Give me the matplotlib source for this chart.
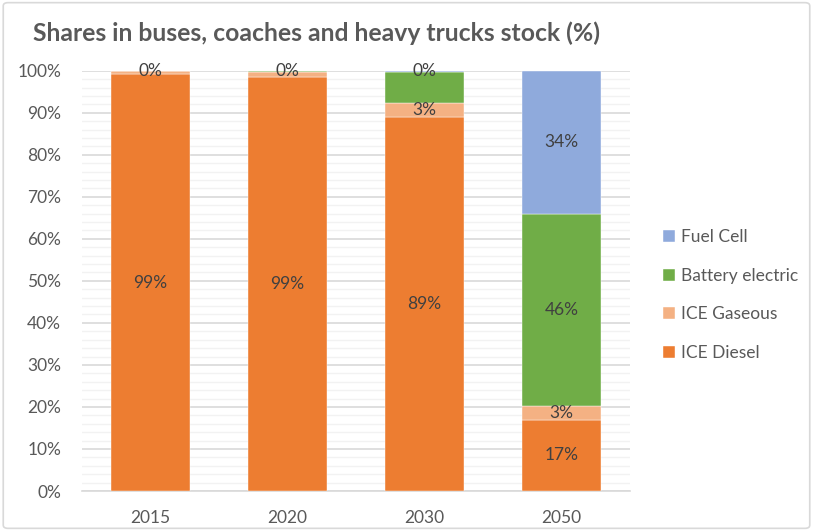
import matplotlib
matplotlib.use('Agg')
import matplotlib.pyplot as plt
from matplotlib.patches import FancyBboxPatch
import numpy as np

# chart data (percent of stock)
years = ['2015', '2020', '2030', '2050']
series_names = ['ICE Diesel', 'ICE Gaseous', 'Battery electric', 'Fuel Cell']
ice_diesel = [99.2, 98.6, 89.1, 17.0]
ice_gaseous = [0.8, 1.2, 3.2, 3.3]
battery_electric = [0.0, 0.2, 7.5, 45.7]
fuel_cell = [0.0, 0.0, 0.2, 34.0]

# which data labels are shown in the original
show_diesel = [True, True, True, True]
show_gaseous = [False, False, True, True]
show_battery = [False, False, False, True]
show_fuel = [True, True, True, True]

colors = ['#ED7D31', '#F4B183', '#70AD47', '#8FAADC']
text_color = '#404040'

plt.rcParams['font.family'] = ['Lato', 'DejaVu Sans']

fig = plt.figure(figsize=(8.13, 5.31), dpi=100)
ax = fig.add_axes([82 / 813, 40 / 531, 548 / 813, 420.3 / 531])

# outer border of the chart area
fig.patches.append(FancyBboxPatch((0.004, 0.005), 0.992, 0.99, boxstyle='round,pad=0,rounding_size=0.006',
                                  transform=fig.transFigure, facecolor='none', edgecolor='#d9d9d9', lw=1.2))

x = np.arange(len(years))
width = 0.57
all_series = [ice_diesel, ice_gaseous, battery_electric, fuel_cell]
all_show = [show_diesel, show_gaseous, show_battery, show_fuel]

bottom = np.zeros(len(years))
handles = []
for name, values, color, show in zip(series_names, all_series, colors, all_show):
    values = np.array(values)
    bars = ax.bar(x, values, width, bottom=bottom, color=color, label=name, zorder=3,
                  edgecolor='white', linewidth=0.3)
    handles.append(bars)
    for i, v in enumerate(values):
        if show[i]:
            ax.text(x[i], bottom[i] + v / 2, '%d%%' % round(v), ha='center', va='center',
                    fontsize=12.5, color=text_color, zorder=4)
    bottom += values

ax.set_xlim(-0.5, len(years) - 0.5)
ax.set_ylim(0, 100)
ax.set_yticks(np.arange(0, 101, 10))
ax.set_yticklabels(['%d%%' % t for t in range(0, 101, 10)])
ax.set_yticks(np.arange(0, 101, 2), minor=True)
ax.set_xticks(x)
ax.set_xticklabels(years)

ax.grid(axis='y', which='major', color='#d9d9d9', lw=1.2, zorder=0)
ax.grid(axis='y', which='minor', color='#f2f2f2', lw=1.0, zorder=0)
for s in ['top', 'right', 'left']:
    ax.spines[s].set_visible(False)
ax.spines['bottom'].set_color('#d9d9d9')
ax.spines['bottom'].set_linewidth(1.2)
ax.tick_params(axis='both', which='both', length=0, labelsize=12.5, colors='#595959')
ax.tick_params(axis='x', pad=14)
ax.tick_params(axis='y', pad=15)

fig.text(33 / 813, 1 - 33 / 531, 'Shares in buses, coaches and heavy trucks stock (%)', fontsize=17.8,
         fontweight='bold', color='#595959', va='center', ha='left')

leg = fig.legend(handles[::-1], series_names[::-1], loc='center left', bbox_to_anchor=(647 / 813, 1 - 295 / 531),
                 frameon=False, fontsize=12.5, handlelength=0.7, handleheight=0.7, handletextpad=0.35,
                 labelspacing=1.3)
for t in leg.get_texts():
    t.set_color('#595959')

fig.savefig('out.png', dpi=100)
